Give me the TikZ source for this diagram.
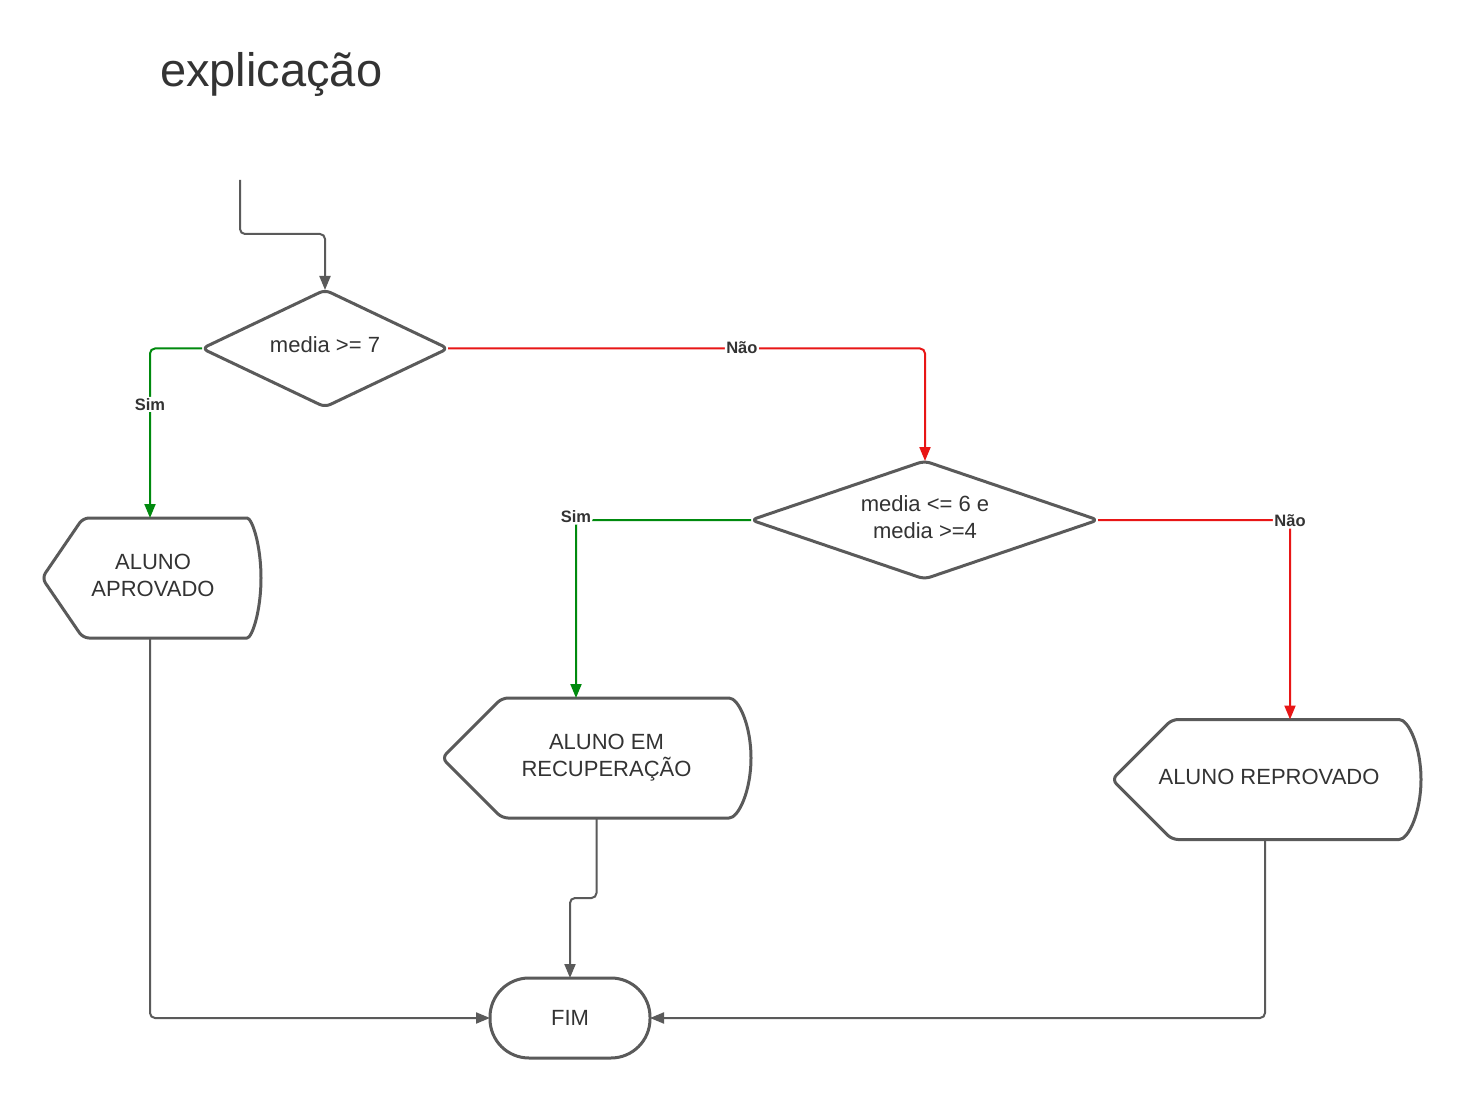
\documentclass[tikz,border=0pt]{standalone}
\usepackage{fontspec}
\setmainfont{Liberation Sans}
\usetikzlibrary{arrows.meta}
\definecolor{lineg}{RGB}{90,90,90}
\definecolor{txt}{RGB}{51,51,51}
\definecolor{okgreen}{RGB}{0,138,14}
\definecolor{nored}{RGB}{232,22,22}
\tikzset{
  frame/.style={draw=none, inner sep=0pt, outer sep=0pt},
  outline/.style={draw=lineg, line width=3pt, rounded corners=6pt, line join=round},
  conn/.style={draw=lineg, line width=2pt, rounded corners=5pt, -{Triangle[length=14pt,width=11pt]}},
  yes/.style={conn, draw=okgreen, -{Triangle[length=14pt,width=11pt,fill=okgreen]}},
  no/.style={conn, draw=nored, -{Triangle[length=14pt,width=11pt,fill=nored]}},
  txtnode/.style={text=txt, font=\fontsize{22}{27}\selectfont, align=center},
  lbl/.style={text=txt, font=\fontsize{16.5}{19}\selectfont\bfseries, fill=white, inner sep=1.5pt},
}
\begin{document}
\begin{tikzpicture}[x=1pt,y=-1pt]
\useasboundingbox (0,0) rectangle (1460,1099);
\fill[white] (0,0) rectangle (1460,1099);

% title
\node[anchor=base west, text=txt, font=\fontsize{47}{50}\selectfont, inner sep=0pt] (title) at (160,87) {explicação};

% start point
\coordinate (s) at (240,180);

% decision 1
\node[frame, minimum width=246pt, minimum height=117pt] (d1) at (325,348.5) {};
\draw[outline] (d1.north) -- (d1.east) -- (d1.south) -- (d1.west) -- cycle;
\node[txtnode] (d1t) at (325,345) {media >= 7};

% decision 2
\node[frame, minimum width=347pt, minimum height=118pt] (d2) at (924.5,520) {};
\draw[outline] (d2.north) -- (d2.east) -- (d2.south) -- (d2.west) -- cycle;
\node[txtnode] (d2t) at (925,517) {media <= 6 e\\media >=4};

% ALUNO APROVADO
\node[frame, minimum width=219pt, minimum height=120pt] (ap) at (151.5,578) {};
\draw[outline] (ap.west) -- ([xshift=41pt]ap.north west) -- ([xshift=-20pt]ap.north east)
  arc[start angle=90, end angle=-90, x radius=20pt, y radius=60pt]
  -- ([xshift=41pt]ap.south west) -- cycle;
\node[txtnode] (apt) at (153,575.5) {ALUNO\\APROVADO};

% ALUNO EM RECUPERACAO
\node[frame, minimum width=309pt, minimum height=120pt] (rc) at (596.5,758) {};
\draw[outline] (rc.west) -- ([xshift=60pt]rc.north west) -- ([xshift=-28pt]rc.north east)
  arc[start angle=90, end angle=-90, x radius=28pt, y radius=60pt]
  -- ([xshift=60pt]rc.south west) -- cycle;
\node[txtnode] (rct) at (606.5,757.5) {ALUNO EM\\RECUPERAÇÃO};

% ALUNO REPROVADO
\node[frame, minimum width=309pt, minimum height=120pt] (rp) at (1266.5,779.5) {};
\draw[outline] (rp.west) -- ([xshift=60pt]rp.north west) -- ([xshift=-28pt]rp.north east)
  arc[start angle=90, end angle=-90, x radius=28pt, y radius=60pt]
  -- ([xshift=60pt]rp.south west) -- cycle;
\node[txtnode] (rpt) at (1269,776.5) {ALUNO REPROVADO};

% FIM
\node[draw=lineg, line width=3pt, rounded corners=39pt, minimum width=160pt, minimum height=80pt, inner sep=0pt, outer sep=0pt, txtnode] (fim) at (570,1018) {FIM};

% connectors
\draw[conn] (s) -- ++(0,54) -| (d1.north);
\draw[yes] (d1.west) -| ([xshift=-1.5pt]ap.north) node[lbl, pos=0.665] (l1) {Sim};
\draw[no] (d1.east) -| ([xshift=0.5pt]d2.north) node[lbl, pos=0.308, yshift=1pt] (l2) {Não};
\draw[yes] (d2.west) -| ([xshift=-20.5pt]rc.north) node[lbl, pos=0.5, yshift=3pt] (l3) {Sim};
\draw[no] (d2.east) -| ([xshift=23.5pt]rp.north) node[lbl, pos=0.5, yshift=-1pt] (l4) {Não};
\draw[conn] ([xshift=-1.5pt]ap.south) |- (fim.west);
\draw[conn] (rc.south) -- ++(0,80) -| (fim.north);
\draw[conn] ([xshift=-1.5pt]rp.south) |- (fim.east);
\end{tikzpicture}
\end{document}
